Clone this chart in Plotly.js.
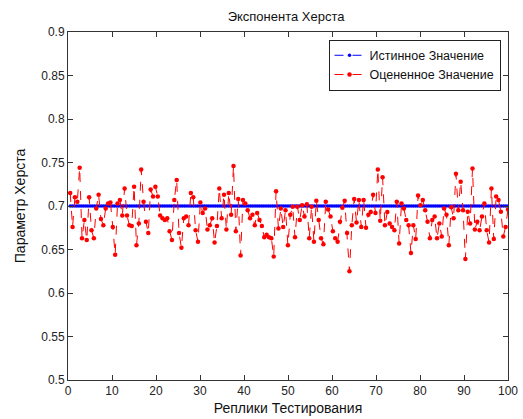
<!DOCTYPE html>
<html>
<head>
<meta charset="utf-8">
<script src="https://cdn.plot.ly/plotly-3.0.1.min.js"></script>
<style>html,body{margin:0;padding:0;background:#fff;}#chart{width:523px;height:419px;}</style>
</head>
<body>
<div id="chart"></div>
<script>
// Estimated (red) Hurst values, in order along the x axis
const estimatedValues = [
  0.715, 0.676, 0.710, 0.705, 0.744, 0.663, 0.684, 0.661, 0.710, 0.672,
  0.663, 0.697, 0.713, 0.685, 0.678, 0.697, 0.703, 0.704, 0.676, 0.644,
  0.703, 0.707, 0.689, 0.720, 0.689, 0.678, 0.677, 0.722, 0.655,
  0.680, 0.742, 0.705, 0.682, 0.669, 0.719, 0.711, 0.722, 0.711, 0.689,
  0.686, 0.684, 0.686, 0.671, 0.661, 0.707, 0.730, 0.669, 0.652, 0.686,
  0.688, 0.678, 0.715, 0.710, 0.672, 0.659, 0.704, 0.692, 0.697, 0.673,
  0.678, 0.686, 0.658,
  0.677, 0.720, 0.686, 0.713, 0.673, 0.715, 0.690, 0.746, 0.671, 0.708,
  0.643, 0.707, 0.703, 0.695, 0.686, 0.690, 0.678, 0.692, 0.684, 0.677,
  0.664, 0.667, 0.664, 0.663, 0.642, 0.717, 0.674, 0.697, 0.676, 0.695,
  0.655, 0.690,
  0.699, 0.664, 0.699, 0.684, 0.701, 0.688, 0.702, 0.663, 0.699, 0.659,
  0.706, 0.684, 0.663, 0.656, 0.705, 0.696, 0.688, 0.671, 0.663, 0.659,
  0.682, 0.698, 0.706, 0.669, 0.625, 0.678, 0.708, 0.681, 0.707, 0.676,
  0.707, 0.675,
  0.690, 0.693, 0.713, 0.692, 0.742, 0.683, 0.733, 0.678, 0.693, 0.680,
  0.676, 0.672, 0.705, 0.657, 0.703, 0.697, 0.684, 0.678, 0.646, 0.678,
  0.662, 0.712, 0.701, 0.707, 0.695, 0.682, 0.663, 0.684, 0.688, 0.663,
  0.680,
  0.665, 0.697, 0.690, 0.655, 0.6985, 0.686, 0.737, 0.695, 0.728, 0.695,
  0.639, 0.6935, 0.680, 0.743, 0.673, 0.682, 0.672, 0.688, 0.703, 0.672,
  0.658, 0.720, 0.662, 0.711, 0.707, 0.6935, 0.665, 0.676, 0.696
];
const trueValue = 0.7;
const xStart = 0.5, xEnd = 100;
const xTicks = [0, 10, 20, 30, 40, 50, 60, 70, 80, 90, 100];
const yTicks = [0.5, 0.55, 0.6, 0.65, 0.7, 0.75, 0.8, 0.85, 0.9];
const yTickLabels = ["0.5", "0.55", "0.6", "0.65", "0.7", "0.75", "0.8", "0.85", "0.9"];
const seriesNames = ["Истинное Значение", "Оцененное Значение"];

const nEst = estimatedValues.length;
const xEst = estimatedValues.map((v, i) => xStart + i * (xEnd - xStart) / (nEst - 1));
const nTrue = 200;
const xTrue = [], yTrue = [];
for (let i = 0; i < nTrue; i++) { xTrue.push(xStart + i * 0.5); yTrue.push(trueValue); }

const font = "Liberation Sans, Arial, sans-serif";
const traces = [
  {x: xTrue, y: yTrue, name: seriesNames[0], type: "scatter", mode: "lines+markers",
   line: {color: "#0000ff", width: 1, dash: "dash"}, marker: {color: "#0000ff", size: 3.5}},
  {x: xEst, y: estimatedValues, name: seriesNames[1], type: "scatter", mode: "lines+markers",
   line: {color: "#ff0000", width: 1, dash: "dash"}, marker: {color: "#ff0000", size: 4.5}}
];
const axisCommon = {showline: true, linecolor: "#333", linewidth: 1, mirror: "ticks",
  ticks: "inside", ticklen: 5, tickcolor: "#333", showgrid: false, zeroline: false,
  tickfont: {family: font, size: 12, color: "#222"}};
const layout = {
  width: 523, height: 419,
  paper_bgcolor: "#fff", plot_bgcolor: "#fff",
  margin: {l: 68, r: 15, t: 32, b: 39},
  title: {text: "Экспонента Херста", font: {family: font, size: 13, color: "#111"},
          x: 0.547, xanchor: "center", y: 0.96, yanchor: "middle"},
  xaxis: Object.assign({}, axisCommon, {range: [0, 100], tickvals: xTicks,
          title: {text: "Реплики Тестирования", font: {family: font, size: 14, color: "#111"}, standoff: 5}}),
  yaxis: Object.assign({}, axisCommon, {range: [0.5, 0.9], tickvals: yTicks, ticktext: yTickLabels,
          title: {text: "Параметр Херста", font: {family: font, size: 14, color: "#111"}, standoff: 12}}),
  showlegend: true,
  legend: {x: 0.983, xanchor: "right", y: 0.978, yanchor: "top", bgcolor: "#fff",
           bordercolor: "#222", borderwidth: 1, font: {family: font, size: 12.5, color: "#111"},
           tracegroupgap: 0, itemwidth: 30}
};
Plotly.newPlot("chart", traces, layout, {displayModeBar: false, staticPlot: true});
</script>
</body>
</html>
